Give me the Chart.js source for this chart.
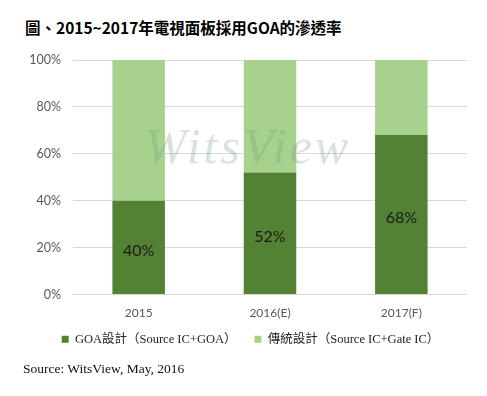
<!DOCTYPE html>
<html>
<head>
<meta charset="utf-8">
<script src="https://cdn.jsdelivr.net/npm/chart.js@4"></script>
<style>
    html, body { margin: 0; padding: 0; background: #ffffff; }
    .wrap { position: relative; width: 487px; height: 396px; overflow: hidden; }
    .titulo {
        position: absolute; left: 25px; top: 16px;
        font-family: "Noto Sans CJK TC", "Liberation Serif", serif;
        font-weight: bold; font-size: 15.5px; color: #000; white-space: nowrap;
    }
    .fuente {
        position: absolute; left: 23px; top: 361px;
        font-family: "Liberation Serif", "DejaVu Serif", serif;
        font-size: 13.5px; color: #111; white-space: nowrap;
    }
    canvas { position: absolute; left: 0; top: 0; }
</style>
</head>
<body>
<div class="wrap">
    <div class="titulo">圖、2015~2017年電視面板採用GOA的滲透率</div>
    <canvas id="myChart" width="487" height="396"></canvas>
    <div class="fuente">Source: WitsView, May, 2016</div>
</div>
<script>
// Datos del gráfico
const years = ['2015', '2016(E)', '2017(F)'];
const goaShare = [40, 52, 68];
const traditionalShare = [60, 48, 32];
const seriesNames = ['GOA設計（Source IC+GOA）', '傳統設計（Source IC+Gate IC）'];
const yTickStep = 20;

document.addEventListener('DOMContentLoaded', function () {

    ///////////////////////////////////////////////////////////////////////////
    //////////////////////////  PLUGINS  /////////////////////////////////////
    ///////////////////////////////////////////////////////////////////////////

    // Marca de agua "WitsView"
    const watermark = {
        id: 'watermark',
        afterDatasetsDraw(chart) {
            const ctx = chart.ctx;
            ctx.save();
            ctx.font = 'italic 50px "Liberation Serif", serif';
            ctx.letterSpacing = '3px';
            ctx.textAlign = 'center';
            ctx.textBaseline = 'alphabetic';
            ctx.fillStyle = 'rgba(100, 150, 120, 0.26)';
            ctx.fillText('WitsView', 248, 163);
            ctx.restore();
        }
    };

    // Etiquetas de porcentaje dentro de las barras oscuras
    const barLabels = {
        id: 'barLabels',
        afterDatasetsDraw(chart) {
            const ctx = chart.ctx;
            const meta = chart.getDatasetMeta(0);
            ctx.save();
            ctx.font = '16px Lato, "Open Sans", sans-serif';
            ctx.fillStyle = '#1a1a1a';
            ctx.textAlign = 'center';
            ctx.textBaseline = 'middle';
            meta.data.forEach(function (bar, i) {
                const y = (bar.y + bar.base) / 2;
                ctx.fillText(goaShare[i] + '%', bar.x, y + 3);
            });
            ctx.restore();
        }
    };

    // Mueve la leyenda (derecha y arriba) como en el original
    const legendShift = {
        id: 'legendShift',
        afterLayout(chart) {
            if (chart.legend) {
                chart.legend.left += 17;
                chart.legend.right += 17;
                chart.legend.top -= 8;
                chart.legend.bottom -= 8;
            }
        }
    };

    ///////////////////////////////////////////////////////////////////////////
    //////////////////////////  GRÁFICO  /////////////////////////////////////
    ///////////////////////////////////////////////////////////////////////////

    const chartCanvas = document.getElementById('myChart');

    const chartConfig = {
        type: 'bar',
        data: {
            labels: years,
            datasets: [{
                label: seriesNames[0],
                data: goaShare,
                backgroundColor: '#548235',
            }, {
                label: seriesNames[1],
                data: traditionalShare,
                backgroundColor: '#a9d18e',
            }],
        },
        options: {
            responsive: false,
            animation: false,
            layout: {
                padding: { top: 60, right: 20, bottom: 33, left: 0 }
            },
            scales: {
                x: {
                    stacked: true,
                    grid: { display: false },
                    border: { display: false },
                    ticks: {
                        color: '#595959',
                        font: { family: 'Lato, "Open Sans", sans-serif', size: 12 },
                        padding: 3
                    }
                },
                y: {
                    stacked: true,
                    min: 0,
                    max: 100,
                    border: { display: false },
                    grid: { color: '#d9d9d9', drawTicks: false },
                    ticks: {
                        stepSize: yTickStep,
                        color: '#595959',
                        font: { family: 'Lato, "Open Sans", sans-serif', size: 12.5 },
                        padding: 12,
                        callback: function (v) { return v + '%'; }
                    },
                    afterFit: function (scale) { scale.width = 73; }
                }
            },
            datasets: {
                bar: { categoryPercentage: 1, barPercentage: 0.4 }
            },
            plugins: {
                legend: {
                    position: 'bottom',
                    maxHeight: 40,
                    labels: {
                        boxWidth: 7,
                        boxHeight: 7,
                        padding: 18,
                        color: '#222',
                        font: { family: '"Liberation Serif", "Noto Sans CJK TC", serif', size: 12.5 }
                    }
                },
                tooltip: { enabled: false }
            }
        },
        plugins: [watermark, barLabels, legendShift]
    };

    const myChart = new Chart(chartCanvas, chartConfig);

});
</script>
</body>
</html>
